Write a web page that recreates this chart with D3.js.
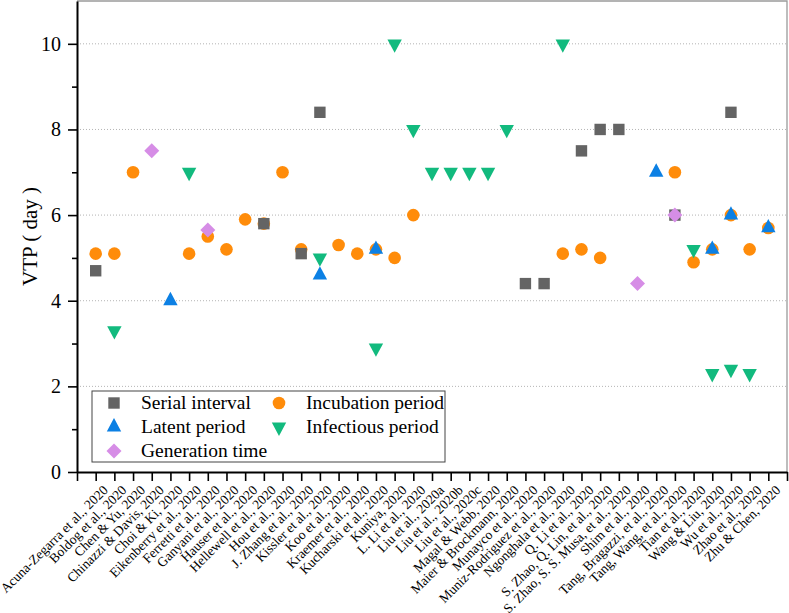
<!DOCTYPE html>
<html lang="en">
<head>
    <meta charset="UTF-8">
    <title>VTP by study</title>
    <script src="https://d3js.org/d3.v7.min.js"></script>
    <style>
        body { margin: 0; background: #fff; }
        svg text { font-family: "Liberation Serif", "Times New Roman", serif; fill: #000; }
    </style>
</head>
<body>
    <svg id="chart"></svg>
    <script>
        var studies = ["Acuna-Zegarra et al., 2020", "Boldog et al., 2020", "Chen & Yu, 2020", "Chinazzi & Davis, 2020",
            "Choi & Ki, 2020", "Eikenberry et al., 2020", "Ferretti et al., 2020", "Ganyani et al., 2020",
            "Hauser et al., 2020", "Hellewell et al., 2020", "Hou et al., 2020", "J. Zhang et al., 2020",
            "Kissler et al., 2020", "Koo et al., 2020", "Kraemer et al., 2020", "Kucharski et al., 2020",
            "Kuniya, 2020", "L. Li et al., 2020", "Liu et al., 2020a", "Liu et al., 2020b", "Liu et al., 2020c",
            "Magal & Webb, 2020", "Maier & Brockmann, 2020", "Munayco et al., 2020", "Muniz-Rodriguez et al., 2020",
            "Ngonghala et al., 2020", "Q. Li et al., 2020", "S. Zhao, Q. Lin, et al., 2020",
            "S. Zhao, S. S. Musa, et al., 2020", "Shim et al., 2020", "Tang, Bragazzi, et al., 2020",
            "Tang, Wang, et al., 2020", "Tian et al., 2020", "Wang & Liu, 2020", "Wu et al., 2020",
            "Zhao et al., 2020", "Zhu & Chen, 2020"];

        // one value per study, null where the study gives none
        var serialInterval = [4.7, null, null, null, null, null, null, null, null, 5.8, null, 5.1, 8.4, null, null, null, null, null, null,
            null, null, null, null, 4.4, 4.4, null, 7.5, 8.0, 8.0, null, null, 6.0, null, null, 8.4, null, null];
        var incubationPeriod = [5.1, 5.1, 7.0, null, null, 5.1, 5.5, 5.2, 5.9, 5.8, 7.0, 5.2, null, 5.3, 5.1, 5.2, 5.0, 6.0, null,
            null, null, null, null, null, null, 5.1, 5.2, 5.0, null, null, null, 7.0, 4.9, 5.2, 6.0, 5.2, 5.7];
        var latentPeriod = [null, null, null, null, 4.0, null, null, null, null, null, null, null, 4.6, null, null, 5.2, null, null, null,
            null, null, null, null, null, null, null, null, null, null, null, 7.0, null, null, 5.2, 6.0, null, 5.7];
        var infectiousPeriod = [null, 3.3, null, null, null, 7.0, null, null, null, null, null, null, 5.0, null, null, 2.9, 10, 8, 7,
            7, 7, 7, 8, null, null, 10, null, null, null, null, null, null, 5.2, 2.3, 2.4, 2.3, null];
        var generationTime = [null, null, null, 7.5, null, null, 5.65, null, null, null, null, null, null, null, null, null, null, null, null,
            null, null, null, null, null, null, null, null, null, null, 4.4, null, 6.0, null, null, null, null, null];

        var yMajor = [0, 2, 4, 6, 8, 10];
        var yMinor = [1, 3, 5, 7, 9];

        var W = 789, H = 613;
        var margin = { top: 1, right: 2, bottom: 141, left: 77 };

        var svg = d3.select("#chart").attr("width", W).attr("height", H);

        var x = d3.scaleLinear().domain([0, studies.length + 1]).range([margin.left, W - margin.right]);
        var y = d3.scaleLinear().domain([0, 11]).range([H - margin.bottom, margin.top]);

        // gridlines
        svg.append("g").selectAll("line").data(yMajor.slice(1)).join("line")
            .attr("x1", x(0)).attr("x2", x(studies.length + 1))
            .attr("y1", function(d) { return y(d); }).attr("y2", function(d) { return y(d); })
            .attr("stroke", "#b4b4b4").attr("stroke-width", 1).attr("stroke-dasharray", "1,2");

        // frame (top and right)
        svg.append("path")
            .attr("d", "M" + x(0) + "," + y(11) + "H" + x(studies.length + 1) + "V" + y(0))
            .attr("fill", "none").attr("stroke", "#9a9a9a").attr("stroke-width", 1.3);

        // axes
        var xAxis = svg.append("g")
            .attr("transform", "translate(0," + y(0) + ")")
            .call(d3.axisBottom(x).tickValues(d3.range(0, studies.length + 2)).tickSize(9).tickSizeOuter(0).tickFormat(""));
        xAxis.select(".domain").attr("stroke-width", 2);
        xAxis.selectAll(".tick line").attr("stroke-width", 1.6);

        var yAxis = svg.append("g")
            .attr("transform", "translate(" + x(0) + ",0)")
            .call(d3.axisLeft(y).tickValues(yMajor).tickSize(9).tickSizeOuter(0).tickPadding(7));
        yAxis.select(".domain").attr("stroke-width", 2);
        yAxis.selectAll(".tick line").attr("stroke-width", 1.6);
        yAxis.selectAll("text").style("font-size", "20px").style("font-family", "'Liberation Serif', serif");

        var yMinorAxis = svg.append("g")
            .attr("transform", "translate(" + x(0) + ",0)")
            .call(d3.axisLeft(y).tickValues(yMinor).tickSize(5).tickFormat(""));
        yMinorAxis.select(".domain").remove();
        yMinorAxis.selectAll(".tick line").attr("stroke-width", 1.6);

        // category labels
        svg.append("g").selectAll("text").data(studies).join("text")
            .attr("transform", function(d, i) { return "translate(" + (x(i + 1) + 13) + "," + (y(0) + 19) + ") rotate(-45)"; })
            .attr("text-anchor", "end")
            .attr("font-size", "13.5px")
            .text(function(d) { return d; });

        svg.append("text")
            .attr("transform", "translate(37," + y(5.5) + ") rotate(-90)")
            .attr("text-anchor", "middle")
            .attr("font-size", "21px")
            .text("VTP ( day )");

        // symbol shapes
        function shape(kind) {
            if (kind === "square") return "M-5.7,-5.7H5.7V5.7H-5.7Z";
            if (kind === "circle") return "M6.3,0A6.3,6.3 0 1,1 -6.3,0A6.3,6.3 0 1,1 6.3,0Z";
            if (kind === "up") return "M0,-8.9L7.2,4.4L-7.2,4.4Z";
            if (kind === "down") return "M0,8.9L7.2,-4.4L-7.2,-4.4Z";
            if (kind === "diamond") return "M0,-7.5L7.5,0L0,7.5L-7.5,0Z";
        }

        var series = [
            { name: "Incubation period", values: incubationPeriod, kind: "circle", color: "#ff8c0a" },
            { name: "Serial interval", values: serialInterval, kind: "square", color: "#646464" },
            { name: "Latent period", values: latentPeriod, kind: "up", color: "#0c80e4" },
            { name: "Infectious period", values: infectiousPeriod, kind: "down", color: "#12ba7e" },
            { name: "Generation time", values: generationTime, kind: "diamond", color: "#d68de6" }
        ];

        series.forEach(function(s) {
            var pts = s.values.map(function(v, i) { return { i: i + 1, v: v }; }).filter(function(p) { return p.v !== null; });
            svg.append("g").selectAll("path").data(pts).join("path")
                .attr("transform", function(p) { return "translate(" + x(p.i) + "," + y(p.v) + ")"; })
                .attr("d", shape(s.kind))
                .attr("fill", s.color);
        });

        // legend
        var legend = svg.append("g").attr("class", "legend");
        legend.append("rect")
            .attr("x", 92).attr("y", 391).attr("width", 353).attr("height", 71)
            .attr("fill", "#fff").attr("stroke", "#444").attr("stroke-width", 1);

        var legendItems = [
            { s: series[1], col: 0, row: 0 },
            { s: series[0], col: 1, row: 0 },
            { s: series[2], col: 0, row: 1 },
            { s: series[3], col: 1, row: 1 },
            { s: series[4], col: 0, row: 2 }
        ];
        legendItems.forEach(function(it) {
            var lx = it.col === 0 ? 114 : 279;
            var ly = 403 + it.row * 24;
            legend.append("path")
                .attr("transform", "translate(" + lx + "," + ly + ")")
                .attr("d", shape(it.s.kind))
                .attr("fill", it.s.color);
            legend.append("text")
                .attr("x", lx + 27).attr("y", ly)
                .attr("dy", "0.33em")
                .attr("font-size", "19.5px")
                .text(it.s.name);
        });
    </script>
</body>
</html>
